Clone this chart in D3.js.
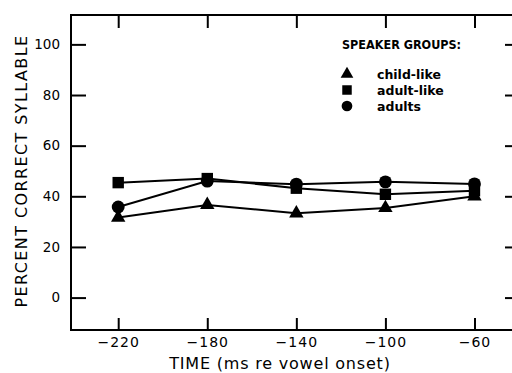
<!DOCTYPE html>
<html>
<head>
<meta charset="utf-8">
<script src="https://cdn.jsdelivr.net/npm/d3@7"></script>
<style>
  body { margin: 0; background: #fff; }
  svg { display: block; }
</style>
</head>
<body>
<svg></svg>
<script>
// time points (ms re vowel onset)
const times = [-220, -180, -140, -100, -60];
const y_ticks = [0, 20, 40, 60, 80, 100];

// percent correct syllable per speaker group
const child_like = [31.6, 36.6, 33.3, 35.4, 40.0];
const adult_like = [45.4, 47.0, 43.2, 40.8, 42.2];
const adults = [35.8, 46.0, 44.8, 45.7, 44.9];

const groups = ["child-like", "adult-like", "adults"];
const shapes = [d3.symbolTriangle, d3.symbolSquare, d3.symbolCircle];

var canvas_width = 512, canvas_height = 373;
// plot frame edges (top is a reserved window name, so prefix them)
var fr_left = 71, fr_right = 515, fr_top = 15, fr_bottom = 330;

var svg = d3.select("svg")
            .attr("width", canvas_width)
            .attr("height", canvas_height);

let x = d3.scaleLinear()
          .domain([-241.2, -41.8])
          .range([fr_left, fr_right]);
let y = d3.scaleLinear()
          .domain([-12.8, 111.6])
          .range([fr_bottom, fr_top]);

// frame
svg.append("rect")
   .attr("x", fr_left)
   .attr("y", fr_top)
   .attr("width", fr_right - fr_left)
   .attr("height", fr_bottom - fr_top)
   .attr("fill", "none")
   .attr("stroke", "#000")
   .attr("stroke-width", 2);

function style_axis(g, size) {
  g.select(".domain").remove();
  g.selectAll(".tick line").attr("stroke", "#000").attr("stroke-width", 2);
  g.selectAll(".tick text")
   .attr("fill", "#000")
   .attr("font-family", "DejaVu Sans, sans-serif")
   .attr("font-size", size);
}

// left axis, ticks pointing in
svg.append("g")
   .attr("transform", "translate(" + fr_left + ",0)")
   .call(d3.axisLeft(y).tickValues(y_ticks).tickSize(-15).tickPadding(11))
   .call(g => style_axis(g, 13.5));

// right axis, ticks pointing in, no labels
svg.append("g")
   .attr("transform", "translate(" + fr_right + ",0)")
   .call(d3.axisRight(y).tickValues(y_ticks).tickSize(-10).tickFormat(""))
   .call(g => style_axis(g, 13));

// bottom axis
svg.append("g")
   .attr("transform", "translate(0," + fr_bottom + ")")
   .call(d3.axisBottom(x).tickValues(times).tickSize(-12).tickPadding(7)
          .tickFormat(d => "\u2212" + Math.abs(d)))
   .call(g => style_axis(g, 14))
   .call(g => g.selectAll(".tick text").attr("letter-spacing", 1));

// top axis
svg.append("g")
   .attr("transform", "translate(0," + fr_top + ")")
   .call(d3.axisTop(x).tickValues(times).tickSize(-13).tickFormat(""))
   .call(g => style_axis(g, 14));

// axis titles
svg.append("text")
   .attr("x", 280)
   .attr("y", 369)
   .attr("text-anchor", "middle")
   .attr("font-family", "DejaVu Sans, sans-serif")
   .attr("font-size", 16)
   .attr("letter-spacing", 0.8)
   .text("TIME (ms re vowel onset)");

svg.append("text")
   .attr("transform", "translate(27,171) rotate(-90)")
   .attr("text-anchor", "middle")
   .attr("font-family", "DejaVu Sans, sans-serif")
   .attr("font-size", 16)
   .attr("letter-spacing", 1.4)
   .text("PERCENT CORRECT SYLLABLE");

// series
const series = [child_like, adult_like, adults];
let line = d3.line()
             .x((d, i) => x(times[i]))
             .y(d => y(d));

series.forEach(function(vals, k) {
  svg.append("path")
     .attr("d", line(vals))
     .attr("fill", "none")
     .attr("stroke", "#000")
     .attr("stroke-width", 2);
});

series.forEach(function(vals, k) {
  svg.append("g")
     .selectAll("path")
     .data(vals)
     .enter()
     .append("path")
     .attr("transform", (d, i) => "translate(" + x(times[i]) + "," + y(d) + ")")
     .attr("d", d3.symbol().type(shapes[k]).size(k === 0 ? 90 : 130))
     .attr("fill", "#000");
});

// legend
svg.append("text")
   .attr("x", 342)
   .attr("y", 49)
   .attr("font-family", "DejaVu Sans Condensed, DejaVu Sans, sans-serif")
   .attr("font-weight", "bold")
   .attr("font-size", 12.5)
   .text("SPEAKER GROUPS:");

let legend = svg.append("g")
                .selectAll("g")
                .data(groups)
                .enter()
                .append("g")
                .attr("transform", (d, i) => "translate(347," + (74 + i * 16) + ")");

legend.append("path")
      .attr("d", (d, i) => d3.symbol().type(shapes[i]).size(i === 0 ? 70 : 90)())
      .attr("fill", "#000");

legend.append("text")
      .attr("x", 30)
      .attr("y", 5)
      .attr("font-family", "DejaVu Sans, sans-serif")
      .attr("font-weight", "bold")
      .attr("font-size", 12.5)
      .text(d => d);
</script>
</body>
</html>
